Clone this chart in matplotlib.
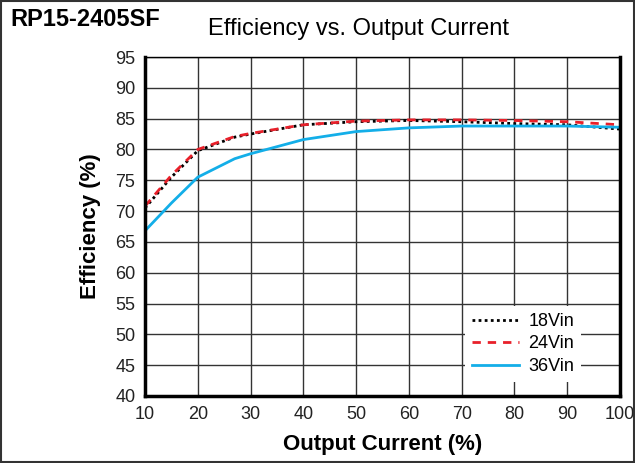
import matplotlib.pyplot as plt
from matplotlib.patches import Rectangle

# 数据
current = [10, 15, 20, 27, 30, 40, 50, 60, 70, 80, 90, 100]
eff_18 = [70.5, 75.5, 79.8, 82.0, 82.5, 84.0, 84.5, 84.7, 84.5, 84.2, 84.0, 83.3]
eff_24 = [70.8, 75.8, 80.0, 82.1, 82.6, 84.0, 84.6, 84.8, 84.8, 84.7, 84.5, 84.0]
eff_36 = [66.8, 71.3, 75.5, 78.5, 79.3, 81.6, 82.9, 83.5, 83.8, 83.8, 83.8, 83.6]
labels = ['18Vin', '24Vin', '36Vin']

plt.rcParams['font.family'] = ['Liberation Sans', 'DejaVu Sans']

fig = plt.figure(figsize=(6.35, 4.63), dpi=100)
ax = fig.add_axes([145 / 635, 1 - 396 / 463, 475 / 635, 339 / 463])

ax.plot(current, eff_18, color='black', linestyle=(0, (1, 1.2)), lw=2, label=labels[0])
ax.plot(current, eff_24, color='#e8202a', linestyle=(0, (3, 2.5)), lw=2, label=labels[1])
ax.plot(current, eff_36, color='#13aee8', lw=2, label=labels[2])

ax.set_xlim(10, 100)
ax.set_ylim(40, 95)
ax.set_xticks(range(10, 101, 10))
ax.set_yticks(range(40, 96, 5))
ax.grid(True, color='#333333', lw=1)
ax.tick_params(length=0, labelsize=13, pad=7, colors='#222222')
for s in ['left', 'right', 'bottom']:
    ax.spines[s].set_linewidth(2.5)
ax.spines['top'].set_linewidth(1)

ax.set_xlabel('Output Current (%)', fontsize=16, fontweight='bold', labelpad=8)
ax.set_ylabel('Efficiency (%)', fontsize=16, fontweight='bold', labelpad=10)

leg = ax.legend(loc='lower right', bbox_to_anchor=(0.93, 0.025), frameon=True,
                fontsize=13, handlelength=2.6, handletextpad=0.5, borderaxespad=0.3,
                labelspacing=0.3)
leg.get_frame().set_edgecolor('none')
leg.get_frame().set_facecolor('white')
leg.get_frame().set_alpha(1)

fig.text(10 / 635, 1 - 19 / 463, 'RP15-2405SF', fontsize=17, fontweight='bold', va='center', ha='left')
fig.text(358 / 635, 1 - 29 / 463, 'Efficiency vs. Output Current', fontsize=17, va='center', ha='center')

fig.patches.append(Rectangle((0.002, 0.002), 0.996, 0.996, transform=fig.transFigure,
                             fill=False, edgecolor='#333333', lw=1.5))

fig.savefig('out.png', dpi=100)
